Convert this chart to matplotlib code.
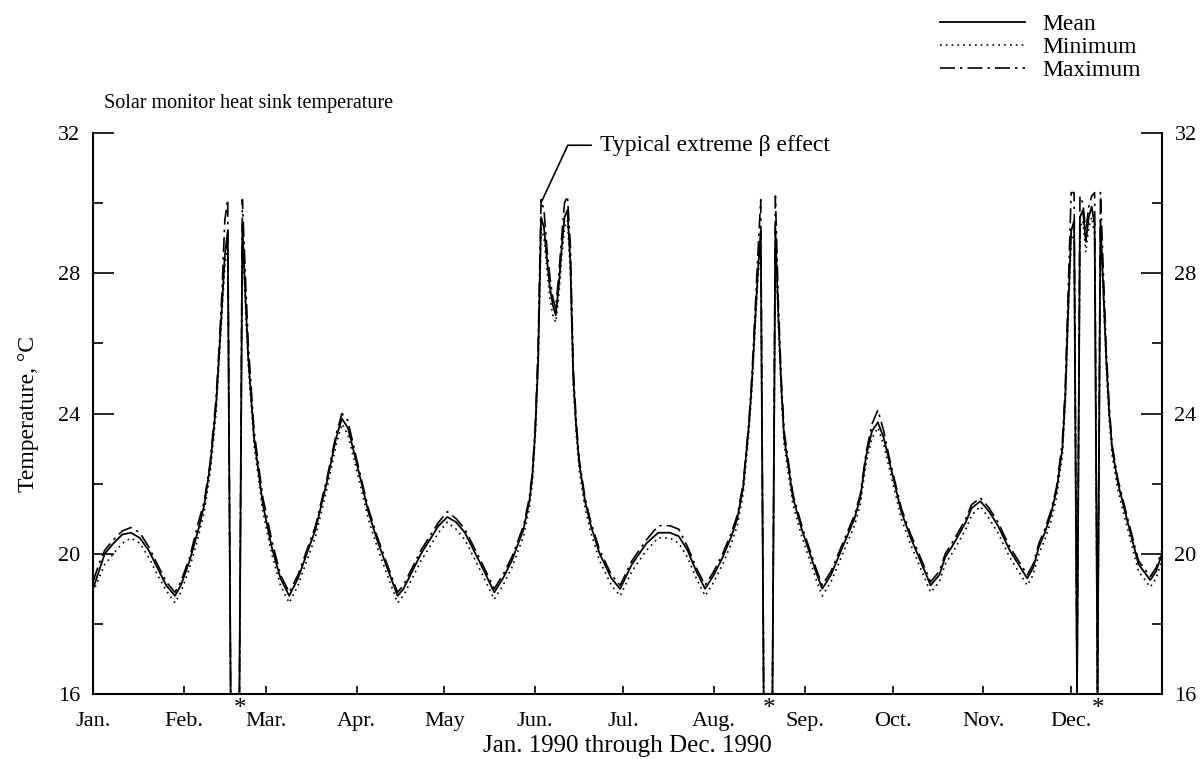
import matplotlib
matplotlib.use('Agg')
import matplotlib.pyplot as plt
from matplotlib.lines import Line2D
import matplotlib.transforms as mtransforms

plt.rcParams['font.family'] = ['Liberation Serif', 'DejaVu Serif']
plt.rcParams['font.size'] = 16

# day of year 1990 (0 = 1 Jan); 16.0 = data dropout (*)
days = [0, 2, 4, 7, 10, 13, 16, 19, 22, 25,
        28, 30, 33, 36, 38, 40, 42, 43, 44, 45,
        46, 47, 50, 51, 52, 53, 55, 58, 61, 64,
        67, 70, 73, 76, 80, 83, 85, 87, 90, 94,
        97, 100, 104, 106, 109, 112, 115, 118, 121, 124,
        127, 130, 133, 137, 140, 143, 147, 149, 150, 151,
        152, 153, 154, 155, 156, 157, 158, 159, 160, 161,
        162, 163, 164, 165, 166, 168, 170, 173, 177, 180,
        184, 189, 193, 197, 200, 203, 206, 209, 212, 215,
        218, 220, 222, 223, 224, 225, 226, 227, 228, 229,
        232, 233, 234, 235, 236, 239, 242, 244, 247, 249,
        252, 255, 257, 260, 262, 264, 266, 268, 270, 272,
        274, 276, 279, 282, 286, 289, 291, 294, 298, 300,
        303, 306, 309, 313, 316, 319, 321, 323, 325, 327,
        329, 331, 332, 333, 334, 335, 336, 337, 338, 339,
        340, 341, 342, 343, 344, 345, 346, 347, 348, 350,
        353, 357, 361, 363, 365]

mean_t = [19.0, 19.5, 20.0, 20.3, 20.55, 20.6, 20.45, 20.1, 19.6, 19.1,
          18.8, 19.1, 19.8, 20.7, 21.4, 22.5, 24.2, 25.6, 27.0, 28.5,
          29.2, 16.0, 16.0, 29.4, 27.4, 25.6, 23.3, 21.4, 20.2, 19.3,
          18.8, 19.3, 20.0, 20.7, 22.1, 23.3, 23.85, 23.6, 22.6, 21.2,
          20.4, 19.7, 18.8, 19.0, 19.5, 20.0, 20.4, 20.8, 21.05, 20.9,
          20.6, 20.1, 19.6, 18.9, 19.3, 19.8, 20.7, 21.5, 22.2, 23.5,
          25.5, 29.6, 29.3, 28.4, 27.6, 27.1, 26.8, 27.6, 28.7, 29.6,
          29.8, 28.3, 25.0, 23.6, 22.6, 21.5, 20.8, 20.0, 19.3, 19.0,
          19.7, 20.3, 20.6, 20.6, 20.5, 20.1, 19.5, 19.0, 19.4, 19.9,
          20.5, 21.0, 21.9, 22.8, 23.7, 24.9, 26.5, 28.0, 29.2, 16.0,
          16.0, 29.3, 26.8, 24.8, 23.3, 21.6, 20.7, 20.2, 19.45, 19.0,
          19.4, 20.0, 20.4, 21.0, 21.6, 22.8, 23.5, 23.75, 23.3, 22.6,
          21.9, 21.2, 20.5, 19.9, 19.1, 19.4, 19.9, 20.3, 20.9, 21.3,
          21.5, 21.2, 20.8, 20.1, 19.7, 19.3, 19.6, 20.2, 20.6, 21.1,
          21.8, 23.0, 24.5, 27.0, 29.2, 29.5, 16.0, 29.6, 29.8, 28.9,
          29.6, 29.9, 29.4, 16.0, 29.5, 27.5, 25.5, 24.0, 23.0, 22.0,
          21.0, 19.7, 19.25, 19.5, 20.0]

min_t = [18.9, 19.3, 19.7, 20.0, 20.3, 20.45, 20.3, 19.9, 19.4, 18.95,
         18.6, 18.9, 19.6, 20.5, 21.2, 22.3, 24.0, 25.4, 26.8, 28.2,
         28.8, 16.0, 16.0, 29.0, 27.2, 25.4, 23.1, 21.2, 20.0, 19.1,
         18.6, 19.1, 19.8, 20.5, 21.9, 23.1, 23.7, 23.4, 22.4, 21.0,
         20.2, 19.5, 18.6, 18.8, 19.3, 19.8, 20.2, 20.6, 20.9, 20.7,
         20.4, 19.9, 19.4, 18.7, 19.1, 19.6, 20.5, 21.3, 22.0, 23.3,
         25.3, 29.3, 29.0, 28.1, 27.3, 26.8, 26.6, 27.3, 28.4, 29.3,
         29.5, 28.0, 24.8, 23.4, 22.4, 21.3, 20.6, 19.8, 19.1, 18.8,
         19.5, 20.1, 20.45, 20.45, 20.3, 19.9, 19.3, 18.8, 19.2, 19.7,
         20.3, 20.8, 21.7, 22.6, 23.5, 24.7, 26.3, 27.8, 28.9, 16.0,
         16.0, 28.9, 26.6, 24.6, 23.1, 21.4, 20.5, 20.0, 19.25, 18.8,
         19.2, 19.8, 20.2, 20.8, 21.4, 22.6, 23.3, 23.6, 23.1, 22.4,
         21.7, 21.0, 20.3, 19.7, 18.9, 19.2, 19.7, 20.1, 20.7, 21.1,
         21.35, 21.0, 20.6, 19.9, 19.5, 19.1, 19.4, 20.0, 20.4, 20.9,
         21.6, 22.8, 24.3, 26.8, 28.9, 29.2, 16.0, 29.3, 29.5, 28.6,
         29.3, 29.6, 29.1, 16.0, 29.2, 27.3, 25.3, 23.8, 22.8, 21.8,
         20.8, 19.5, 19.05, 19.3, 19.8]

max_t = [19.2, 19.7, 20.1, 20.4, 20.65, 20.75, 20.6, 20.2, 19.7, 19.2,
         18.9, 19.2, 19.9, 20.9, 21.5, 22.6, 24.4, 25.8, 27.4, 29.5,
         30.1, 16.0, 16.0, 30.1, 28.0, 26.0, 23.5, 21.6, 20.4, 19.4,
         18.9, 19.4, 20.1, 20.8, 22.2, 23.4, 24.0, 23.8, 22.7, 21.3,
         20.5, 19.8, 18.9, 19.1, 19.6, 20.1, 20.5, 20.9, 21.2, 21.0,
         20.7, 20.2, 19.7, 19.0, 19.4, 19.9, 20.8, 21.6, 22.3, 23.6,
         26.0, 30.1, 29.8, 28.7, 27.9, 27.3, 27.0, 27.9, 29.0, 30.0,
         30.2, 28.8, 25.3, 23.8, 22.7, 21.6, 20.9, 20.1, 19.4, 19.1,
         19.8, 20.4, 20.8, 20.8, 20.7, 20.2, 19.6, 19.1, 19.5, 20.0,
         20.6, 21.1, 22.0, 22.9, 23.8, 25.1, 26.8, 28.5, 30.1, 16.0,
         16.0, 30.2, 27.2, 25.0, 23.5, 21.7, 20.8, 20.3, 19.55, 19.1,
         19.5, 20.1, 20.5, 21.1, 21.7, 22.9, 23.7, 24.1, 23.5, 22.7,
         22.0, 21.3, 20.6, 20.0, 19.2, 19.5, 20.0, 20.4, 21.0, 21.4,
         21.6, 21.3, 20.9, 20.2, 19.8, 19.4, 19.7, 20.3, 20.7, 21.2,
         21.9, 23.2, 24.8, 27.5, 30.3, 30.3, 16.0, 30.2, 30.0, 29.2,
         29.9, 30.2, 30.3, 16.0, 30.3, 28.0, 25.8, 24.2, 23.1, 22.1,
         21.1, 19.8, 19.35, 19.6, 20.1]

month_start = [0, 31, 59, 90, 120, 151, 181, 212, 243, 273, 304, 334]
month_labels = ['Jan.', 'Feb.', 'Mar.', 'Apr.', 'May', 'Jun.',
                'Jul.', 'Aug.', 'Sep.', 'Oct.', 'Nov.', 'Dec.']
gap_days = [50.2, 231, 343.3]

dashdot = (0, (9, 3, 1.5, 3))
dotted = (0, (1, 2.5))

fig = plt.figure(figsize=(12, 7.59), dpi=100)
ax = fig.add_axes([0.0775, 0.0856, 0.8908, 0.7392])

ax.plot(days, max_t, color='black', lw=1.2, ls=dashdot)
ax.plot(days, min_t, color='black', lw=1.2, ls=dotted)
ax.plot(days, mean_t, color='black', lw=1.3)

ax.set_xlim(0, 365)
ax.set_ylim(16, 32)
ax.spines['top'].set_visible(False)
for s in ['left', 'right', 'bottom']:
    ax.spines[s].set_linewidth(1.5)

ax.set_xticks(month_start)
ax.set_xticklabels(month_labels)
ax.tick_params(axis='x', direction='in', length=6, width=1.2, pad=13, labelsize=16)
ax.set_yticks([16, 20, 24, 28, 32])
ax.set_yticks([18, 22, 26, 30], minor=True)
ax.tick_params(axis='y', which='major', direction='in', length=15, width=1.2,
               left=True, right=True, labelleft=True, labelright=True, pad=9, labelsize=16)
ax.tick_params(axis='y', which='minor', direction='in', length=7, width=1.2,
               left=True, right=True)

ax.set_xlabel('Jan. 1990 through Dec. 1990', fontsize=18, labelpad=3)
ax.set_ylabel('Temperature, °C', fontsize=17, labelpad=14)
ax.text(0.01, 1.035, 'Solar monitor heat sink temperature', transform=ax.transAxes,
        ha='left', va='bottom', fontsize=14.5)

# gap markers under the axis
trans = mtransforms.blended_transform_factory(ax.transData, ax.transAxes)
for g in gap_days:
    ax.text(g, -0.026, '*', transform=trans, ha='center', va='center', fontsize=18)

ax.annotate('Typical extreme β effect', xy=(153.2, 30.05), xytext=(173, 31.65),
            ha='left', va='center', fontsize=17,
            arrowprops=dict(arrowstyle='-', lw=1.2, color='black',
                            connectionstyle='angle,angleA=0,angleB=65,rad=0',
                            shrinkA=4, shrinkB=0))

handles = [Line2D([], [], color='black', lw=1.3),
           Line2D([], [], color='black', lw=1.2, ls=dotted),
           Line2D([], [], color='black', lw=1.2, ls=dashdot)]
fig.legend(handles, ['Mean', 'Minimum', 'Maximum'], loc='upper left',
           bbox_to_anchor=(0.7775, 0.991), frameon=False, fontsize=17,
           handlelength=3.6, handletextpad=0.72, labelspacing=0.05,
           borderpad=0.3, borderaxespad=0)

fig.savefig('out.png', dpi=100)
